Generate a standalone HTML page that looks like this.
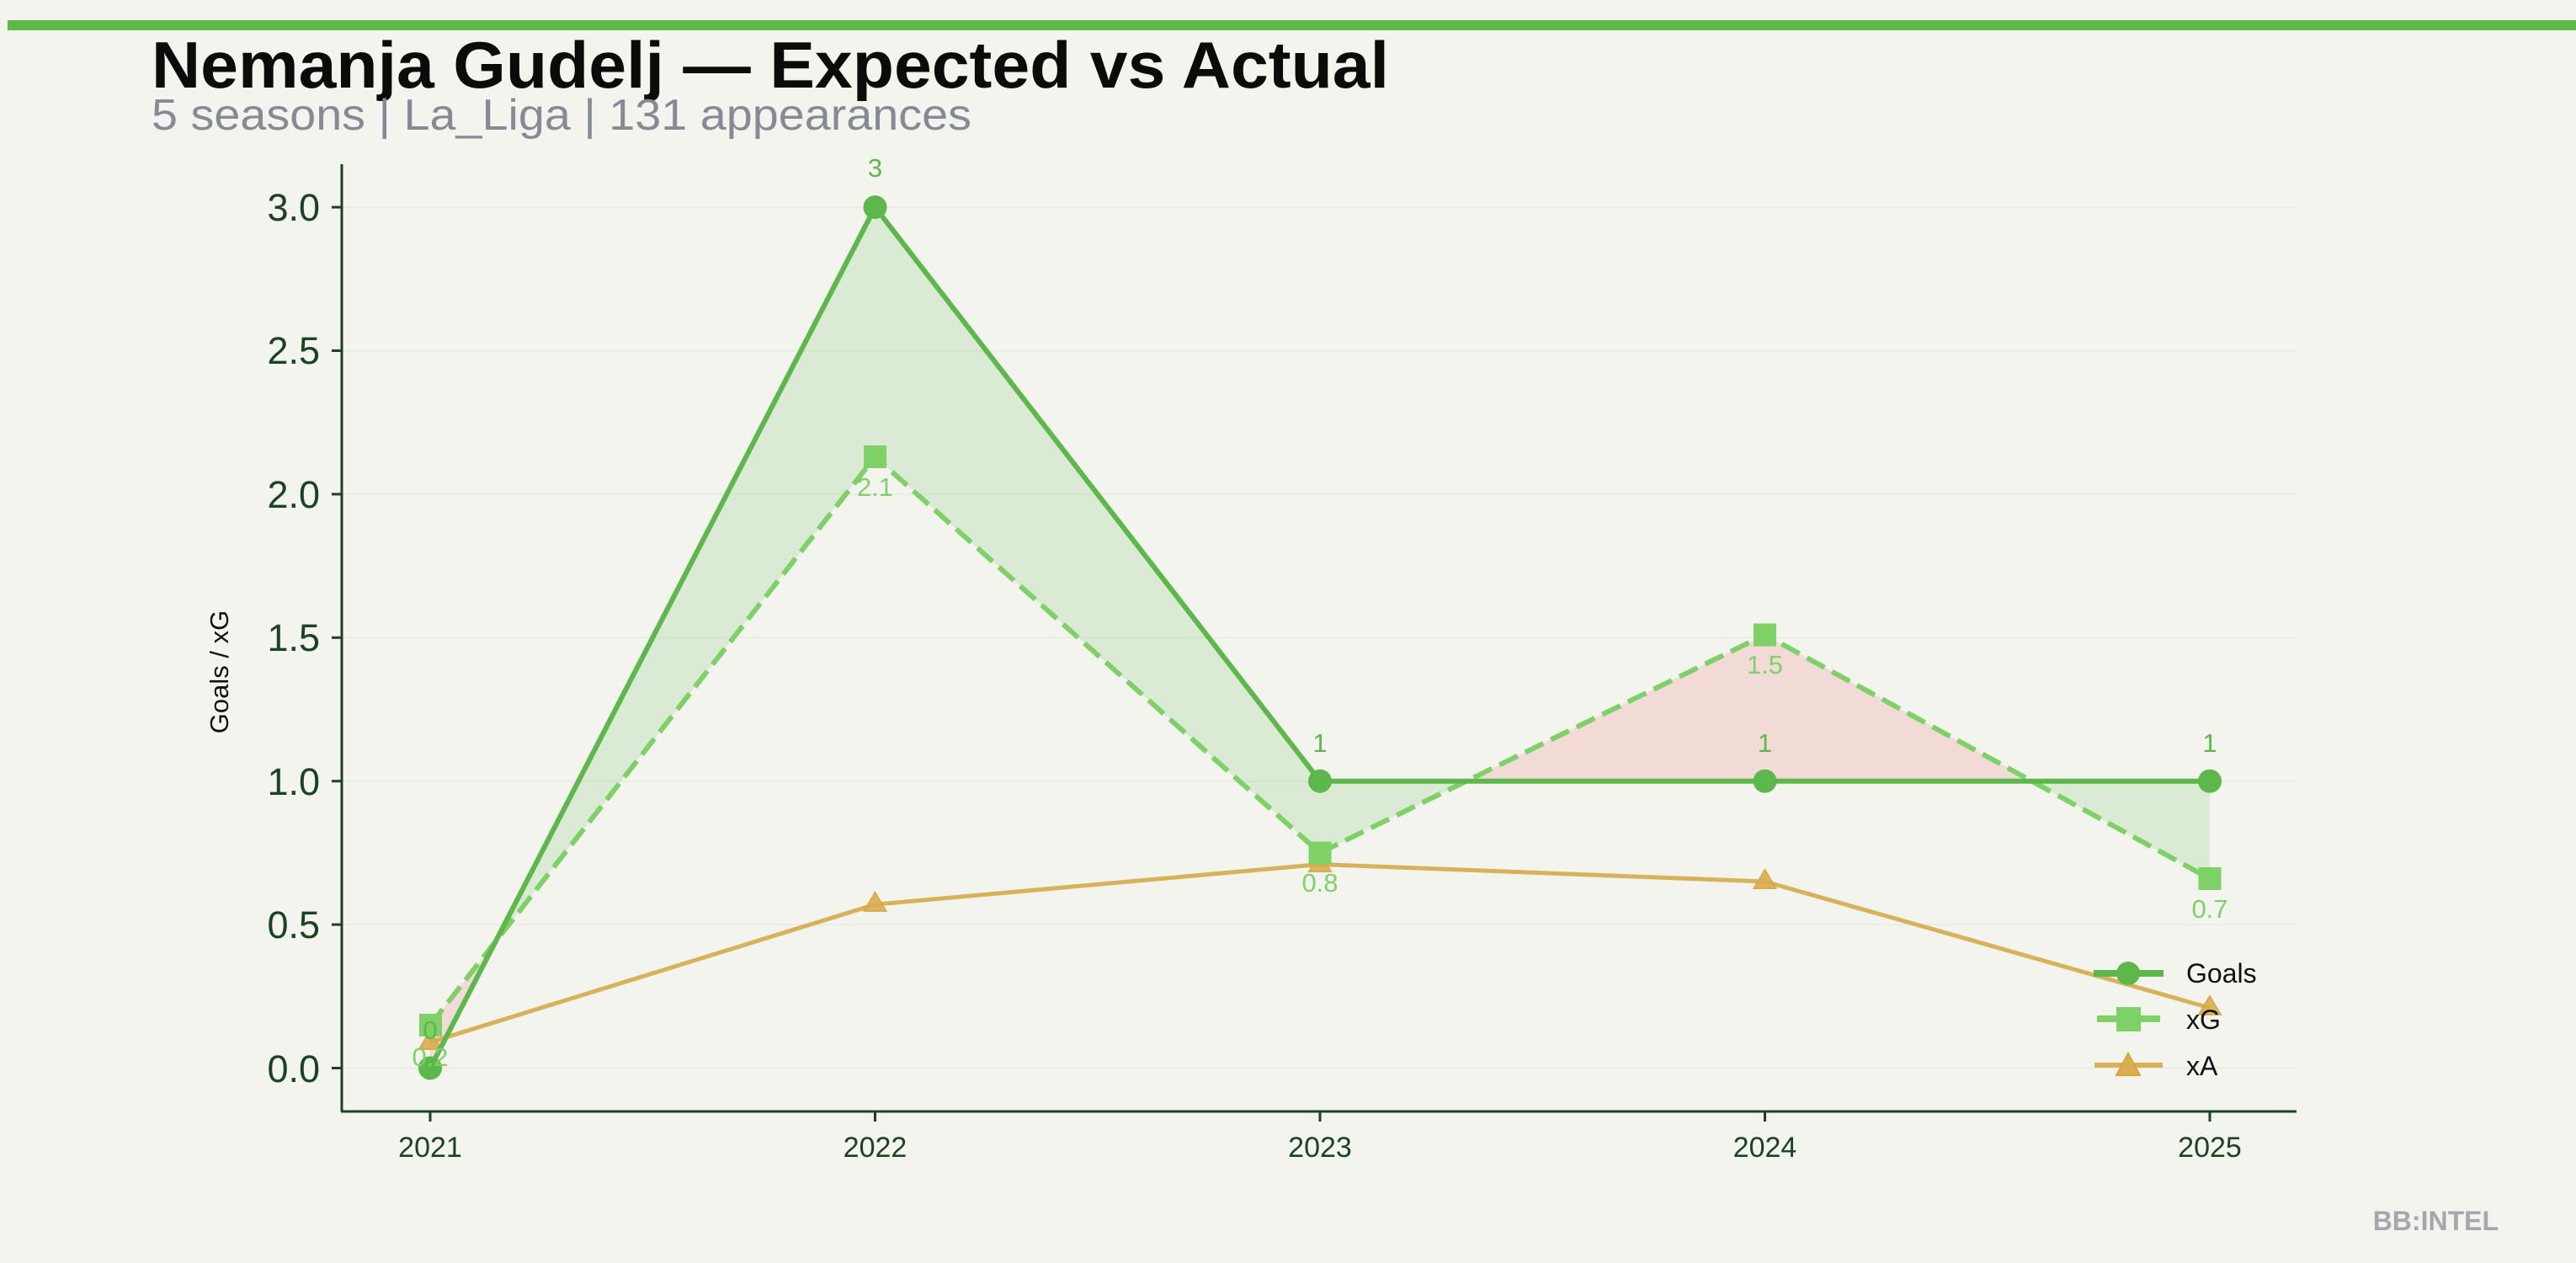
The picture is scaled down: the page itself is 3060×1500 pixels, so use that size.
<!DOCTYPE html>
<html><head><meta charset="utf-8"><style>
html,body{margin:0;padding:0;background:#f4f4ef;}
svg{display:block;font-family:"Liberation Sans","DejaVu Sans",sans-serif;}
</style></head><body>
<svg width="3060" height="1500" viewBox="0 0 3060 1500" xmlns="http://www.w3.org/2000/svg">
<rect width="3060" height="1500" fill="#f4f4ef"/>
<rect x="9" y="24" width="3051" height="12" fill="#5cb84a"/>
<text x="180" y="104" font-size="78" font-weight="bold" fill="#0a0c0a" textLength="1470" lengthAdjust="spacingAndGlyphs">Nemanja Gudelj — Expected vs Actual</text>
<text x="180" y="154" font-size="52" fill="#868a94" textLength="974" lengthAdjust="spacingAndGlyphs">5 seasons | La_Liga | 131 appearances</text>
<!-- grid -->
<g stroke="#ebebe2" stroke-width="2">
<line x1="406" x2="2728" y1="1268.5" y2="1268.5"/>
<line x1="406" x2="2728" y1="1098.1" y2="1098.1"/>
<line x1="406" x2="2728" y1="927.7" y2="927.7"/>
<line x1="406" x2="2728" y1="757.3" y2="757.3"/>
<line x1="406" x2="2728" y1="586.9" y2="586.9"/>
<line x1="406" x2="2728" y1="416.5" y2="416.5"/>
<line x1="406" x2="2728" y1="246.1" y2="246.1"/>
</g>
<!-- fills -->
<polygon points="588.7,1118.2 1039.5,246.1 1568,927.7 1741.9,927.7 1568,1012.9 1039.5,542.6" fill="rgba(92,184,74,0.16)"/>
<polygon points="511,1268.5 588.7,1118.2 511,1217.4" fill="rgba(240,160,155,0.3)"/>
<polygon points="1741.9,927.7 2096.5,753.9 2413.6,927.7" fill="rgba(240,160,155,0.3)"/>
<polygon points="2413.6,927.7 2625,927.7 2625,1043.6" fill="rgba(92,184,74,0.16)"/>
<!-- axes -->
<line x1="406" y1="195" x2="406" y2="1320" stroke="#1b4222" stroke-width="3"/>
<line x1="405" y1="1320" x2="2728" y2="1320" stroke="#1b4222" stroke-width="3"/>
<g stroke="#1b4222" stroke-width="3">
<line x1="394" x2="406" y1="1268.5" y2="1268.5"/><line x1="394" x2="406" y1="1098.1" y2="1098.1"/>
<line x1="394" x2="406" y1="927.7" y2="927.7"/><line x1="394" x2="406" y1="757.3" y2="757.3"/>
<line x1="394" x2="406" y1="586.9" y2="586.9"/><line x1="394" x2="406" y1="416.5" y2="416.5"/>
<line x1="394" x2="406" y1="246.1" y2="246.1"/>
<line x1="511" x2="511" y1="1320" y2="1332"/><line x1="1039.5" x2="1039.5" y1="1320" y2="1332"/>
<line x1="1568" x2="1568" y1="1320" y2="1332"/><line x1="2096.5" x2="2096.5" y1="1320" y2="1332"/>
<line x1="2625" x2="2625" y1="1320" y2="1332"/>
</g>
<g font-size="45" fill="#1b4222" text-anchor="end">
<text x="380" y="1285">0.0</text><text x="380" y="1114">0.5</text><text x="380" y="944">1.0</text>
<text x="380" y="773">1.5</text><text x="380" y="603">2.0</text><text x="380" y="432">2.5</text><text x="380" y="262">3.0</text>
</g>
<g font-size="34" fill="#1b4222" text-anchor="middle">
<text x="511" y="1374">2021</text><text x="1039.5" y="1374">2022</text><text x="1568" y="1374">2023</text>
<text x="2096.5" y="1374">2024</text><text x="2625" y="1374">2025</text>
</g>
<text transform="translate(271,798) rotate(-90)" font-size="31" fill="#111" text-anchor="middle">Goals / xG</text>
<!-- xA -->
<polyline points="511,1237.8 1039.5,1074.2 1568,1026.5 2096.5,1047 2625,1197" fill="none" stroke="#d8b25a" stroke-width="5"/>
<g fill="#d8ae50" stroke="#d4a640" stroke-width="2" opacity="0.9">
<polygon points="511,1224 524,1246 498,1246"/><polygon points="1039.5,1060 1052.5,1082 1026.5,1082"/>
<polygon points="1568,1013 1581,1035 1555,1035"/><polygon points="2096.5,1033 2109.5,1055 2083.5,1055"/>
<polygon points="2625,1183 2638,1205 2612,1205"/>
</g>
<!-- xG -->
<polyline points="511,1217.4 1039.5,542.6 1568,1012.9 2096.5,753.9 2625,1043.6" fill="none" stroke="#7dd167" stroke-width="6" stroke-dasharray="24,10"/>
<g fill="#7dd167">
<rect x="498" y="1204" width="27" height="27"/><rect x="1026" y="529" width="27" height="27"/>
<rect x="1554.5" y="999.5" width="27" height="27"/><rect x="2083" y="740.5" width="27" height="27"/>
<rect x="2611.5" y="1030" width="27" height="27"/>
</g>
<!-- Goals -->
<polyline points="511,1268.5 1039.5,246.1 1568,927.7 2096.5,927.7 2625,927.7" fill="none" stroke="#5cb84a" stroke-width="6"/>
<g fill="#5cb84a">
<circle cx="511" cy="1268.5" r="14"/><circle cx="1039.5" cy="246.1" r="14"/><circle cx="1568" cy="927.7" r="14"/>
<circle cx="2096.5" cy="927.7" r="14"/><circle cx="2625" cy="927.7" r="14"/>
</g>
<!-- annotations -->
<g font-size="31" fill="#5cb84a" text-anchor="middle">
<text x="511" y="1234">0</text><text x="1039.5" y="210">3</text><text x="1568" y="893">1</text>
<text x="2096.5" y="893">1</text><text x="2625" y="893">1</text>
</g>
<g font-size="31" fill="#7dd167" text-anchor="middle">
<text x="511" y="1266">0.2</text><text x="1039.5" y="589">2.1</text><text x="1568" y="1059">0.8</text>
<text x="2096.5" y="800">1.5</text><text x="2625" y="1090">0.7</text>
</g>
<!-- legend -->
<line x1="2487" x2="2570" y1="1156" y2="1156" stroke="#5cb84a" stroke-width="8"/>
<circle cx="2528" cy="1156" r="14" fill="#5cb84a"/>
<text x="2597" y="1167" font-size="32" fill="#111">Goals</text>
<line x1="2491" x2="2566" y1="1210" y2="1210" stroke="#7dd167" stroke-width="8"/>
<rect x="2514" y="1196" width="29" height="29" fill="#7dd167"/>
<text x="2597" y="1222" font-size="32" fill="#111">xG</text>
<line x1="2488" x2="2569" y1="1265" y2="1265" stroke="#d8b25a" stroke-width="6"/>
<polygon points="2528,1251 2542,1277 2514,1277" fill="#d8ae50" stroke="#d4a640" stroke-width="2"/>
<text x="2597" y="1277" font-size="32" fill="#111">xA</text>
<text x="2968" y="1461" font-size="32" font-weight="bold" fill="#a4a7ab" text-anchor="end">BB:INTEL</text>
</svg>
</body></html>
